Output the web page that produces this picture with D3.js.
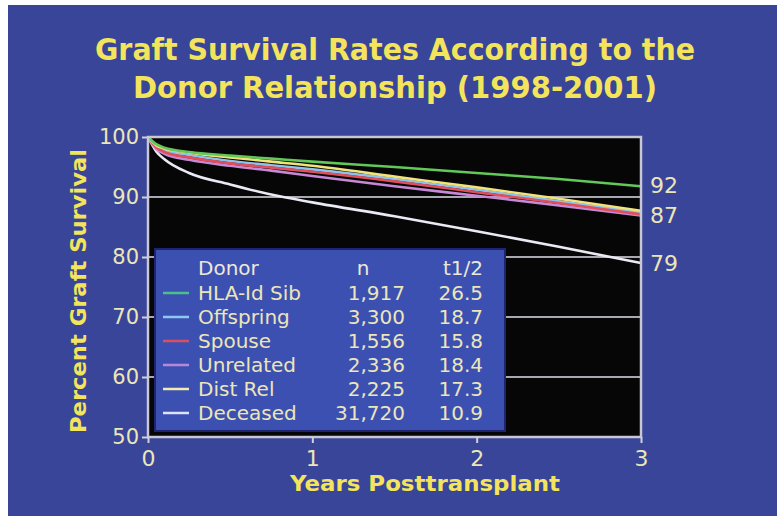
<!DOCTYPE html>
<html><head><meta charset="utf-8">
<script src="https://cdn.jsdelivr.net/npm/d3@7"></script>
<style>
html,body{margin:0;padding:0;background:#fff;}
svg{display:block;}
</style></head>
<body>
<svg id="c" width="777" height="516"></svg>
<script>
const years = [0, 0.05, 0.1, 0.25, 0.5, 0.75, 1, 1.5, 2, 2.5, 3];
const donors = ["HLA-Id Sib", "Offspring", "Spouse", "Unrelated", "Dist Rel", "Deceased"];
const counts = ["1,917", "3,300", "1,556", "2,336", "2,225", "31,720"];
const halfLives = ["26.5", "18.7", "15.8", "18.4", "17.3", "10.9"];
const hlaSib    = [100, 98.8, 98.2, 97.5, 96.9, 96.4, 95.9, 95.0, 94.0, 93.0, 91.8];
const offspring = [100, 98.5, 97.8, 97.0, 96.0, 95.3, 94.6, 93.0, 91.2, 89.3, 87.4];
const spouse    = [100, 98.3, 97.5, 96.6, 95.6, 94.9, 94.2, 92.6, 90.8, 89.0, 87.1];
const unrelated = [100, 98.0, 97.2, 96.2, 95.2, 94.4, 93.5, 91.8, 90.2, 88.6, 86.9];
const distRel   = [100, 98.6, 98.1, 97.4, 96.6, 95.9, 95.2, 93.4, 91.6, 89.7, 87.7];
const deceased  = [100, 97.6, 96.3, 94.0, 92.1, 90.4, 89.1, 86.8, 84.3, 81.7, 79.0];
const yTicks = [100, 90, 80, 70, 60, 50];
const xTicks = [0, 1, 2, 3];
const endLabels = [92, 87, 79];

const lineColors = ["#62c85a", "#8cc4f0", "#e0505a", "#c888d8", "#f2e27a", "#eaeaf6"];
const legendColors = ["#4cc08a", "#8cc8f0", "#d85060", "#b888d8", "#f2eab0", "#dde4ff"];
const seriesVals = [hlaSib, offspring, spouse, unrelated, distRel, deceased];

const svg = d3.select("#c");
const yellow = "#f3e45c";
const cream = "#ece6b8";

svg.append("rect").attr("x", 8).attr("y", 5).attr("width", 769).attr("height", 511).attr("fill", "#384598");

const x = d3.scaleLinear().domain([0, 3]).range([148, 641]);
const y = d3.scaleLinear().domain([50, 100]).range([437, 137]);

// plot background
svg.append("rect").attr("x", x(0)).attr("y", y(100)).attr("width", x(3) - x(0)).attr("height", y(50) - y(100)).attr("fill", "#060606");

// gridlines
svg.append("g").selectAll("line").data([90, 80, 70, 60]).join("line")
  .attr("x1", x(0)).attr("x2", x(3)).attr("y1", d => y(d)).attr("y2", d => y(d))
  .attr("stroke", "#a8a8b0").attr("stroke-width", 2);

// lines
const line = d3.line().x((d, i) => x(years[i])).y(d => y(d)).curve(d3.curveMonotoneX);
const order = [5, 1, 3, 2, 4, 0];
svg.append("g").selectAll("path").data(order).join("path")
  .attr("d", i => line(seriesVals[i]))
  .attr("fill", "none").attr("stroke", i => lineColors[i]).attr("stroke-width", 2.6);

// legend box
const lg = svg.append("g");
lg.append("rect").attr("x", 155).attr("y", 249).attr("width", 350).attr("height", 182)
  .attr("fill", "#3c50b2").attr("stroke", "#1e2470").attr("stroke-width", 2);
const rowY = d3.scaleLinear().domain([0, 1]).range([293, 317]);
const hdrY = 268;
lg.append("text").attr("x", 198).attr("y", hdrY).attr("dy", "0.35em").text("Donor")
  .attr("fill", "#ece8d8").attr("font-family", "DejaVu Sans").attr("font-size", 20);
lg.append("text").attr("x", 363).attr("y", hdrY).attr("dy", "0.35em").attr("text-anchor", "middle").text("n")
  .attr("fill", "#ece8d8").attr("font-family", "DejaVu Sans").attr("font-size", 20);
lg.append("text").attr("x", 483).attr("y", hdrY).attr("dy", "0.35em").attr("text-anchor", "end").text("t1/2")
  .attr("fill", "#ece8d8").attr("font-family", "DejaVu Sans").attr("font-size", 20);
const rows = lg.selectAll("g.row").data(donors).join("g").attr("class", "row")
  .attr("transform", (d, i) => `translate(0,${rowY(i)})`);
rows.append("line").attr("x1", 163).attr("x2", 189).attr("y1", 0).attr("y2", 0)
  .attr("stroke", (d, i) => legendColors[i]).attr("stroke-width", 2.5);
rows.append("text").attr("x", 198).attr("dy", "0.35em").text(d => d)
  .attr("fill", cream).attr("font-family", "DejaVu Sans").attr("font-size", 20);
rows.append("text").attr("x", 405).attr("dy", "0.35em").attr("text-anchor", "end").text((d, i) => counts[i])
  .attr("fill", cream).attr("font-family", "DejaVu Sans").attr("font-size", 20);
rows.append("text").attr("x", 483).attr("dy", "0.35em").attr("text-anchor", "end").text((d, i) => halfLives[i])
  .attr("fill", cream).attr("font-family", "DejaVu Sans").attr("font-size", 20);

// frame
svg.append("rect").attr("x", x(0)).attr("y", y(100)).attr("width", x(3) - x(0)).attr("height", y(50) - y(100))
  .attr("fill", "none").attr("stroke", "#c8c8d4").attr("stroke-width", 2.5);

// axes
const yAxis = svg.append("g").attr("transform", `translate(${x(0)},0)`)
  .call(d3.axisLeft(y).tickValues(yTicks).tickSize(6).tickPadding(3));
yAxis.select(".domain").remove();
yAxis.selectAll("line").attr("stroke", "#d0d0dc").attr("stroke-width", 2);
yAxis.selectAll("text").attr("fill", cream).attr("font-family", "DejaVu Sans").attr("font-size", 21);

const xAxis = svg.append("g").attr("transform", `translate(0,${y(50)})`)
  .call(d3.axisBottom(x).tickValues(xTicks).tickFormat(d3.format("d")).tickSize(6).tickPadding(7));
xAxis.select(".domain").remove();
xAxis.selectAll("line").attr("stroke", "#d0d0dc").attr("stroke-width", 2);
xAxis.selectAll("text").attr("fill", cream).attr("font-family", "DejaVu Sans").attr("font-size", 22);

// end labels
svg.append("g").selectAll("text").data(endLabels).join("text")
  .attr("x", x(3) + 9).attr("y", d => y(d)).attr("dy", "0.35em").text(d => d)
  .attr("fill", cream).attr("font-family", "DejaVu Sans").attr("font-size", 22);

// titles
const title = svg.append("g").attr("font-family", "DejaVu Sans").attr("font-weight", "bold").attr("fill", yellow);
title.append("text").attr("x", 395).attr("y", 60).attr("text-anchor", "middle").attr("font-size", 30)
  .attr("textLength", 600).attr("lengthAdjust", "spacingAndGlyphs").text("Graft Survival Rates According to the");
title.append("text").attr("x", 395).attr("y", 98).attr("text-anchor", "middle").attr("font-size", 30)
  .attr("textLength", 524).attr("lengthAdjust", "spacingAndGlyphs").text("Donor Relationship (1998-2001)");

svg.append("text").attr("transform", `translate(86,${(y(100) + y(50)) / 2 + 4}) rotate(-90)`)
  .attr("text-anchor", "middle").attr("font-family", "DejaVu Sans").attr("font-weight", "bold")
  .attr("font-size", 21).attr("fill", yellow).attr("textLength", 284).attr("lengthAdjust", "spacingAndGlyphs")
  .text("Percent Graft Survival");
svg.append("text").attr("x", 425).attr("y", 491).attr("text-anchor", "middle").attr("font-family", "DejaVu Sans")
  .attr("font-weight", "bold").attr("font-size", 21).attr("fill", yellow)
  .attr("textLength", 270).attr("lengthAdjust", "spacingAndGlyphs").text("Years Posttransplant");
</script>
</body></html>
